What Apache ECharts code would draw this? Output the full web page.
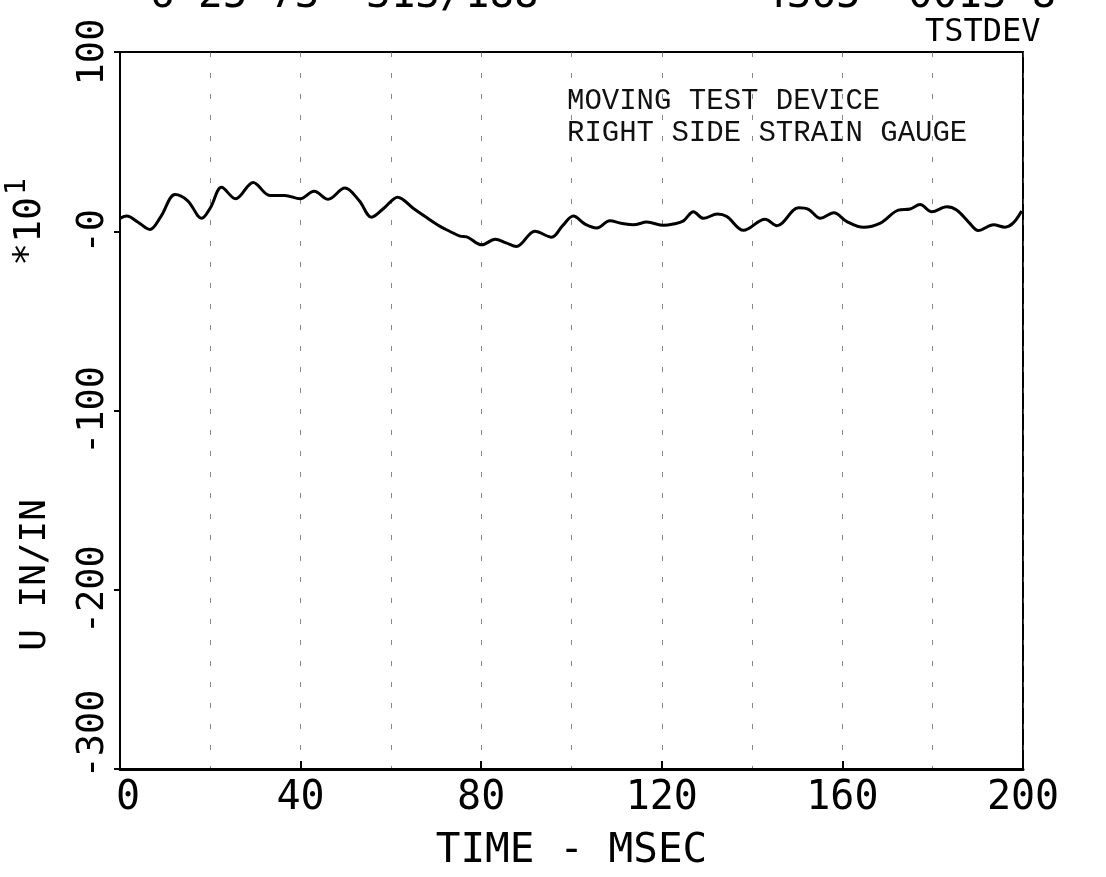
<!DOCTYPE html>
<html>
<head>
<meta charset="utf-8">
<script src="https://cdn.jsdelivr.net/npm/echarts@6/dist/echarts.min.js"></script>
<style>
html,body{margin:0;padding:0;background:#fff;}
#chart{width:1106px;height:877px;}
</style>
</head>
<body>
<div id="chart"></div>
<script>
// ---- data ----
const timeMs = [0,1.5,4,6.6,9,12.2,15,18.1,20,22.5,25.6,29.5,33.2,36.5,39.9,43,46.1,49.8,53,55.7,58.5,61.5,65,68,70.9,73,75.3,76.8,80.1,83.1,85.5,87.8,91.9,95.6,98,100.4,103,105.6,108.5,111,113.7,116.7,120.4,122.5,124.8,127,129.2,132.3,134.4,138.1,142.9,145.5,150.3,152.5,155.1,158.1,161,164.7,168.4,172.4,175,177.2,179.8,183.1,185.3,188,190.1,193.5,196,197.8,199.7];
const strain = [7.2,8.5,5,1,8,20.5,17,7.2,13,24.5,18.1,27.2,20,20,18.1,22.3,17.8,24.1,17,7.8,13,19,12.7,7.5,2.7,0,-2.7,-3.1,-7.6,-4.5,-6.5,-8.5,0,-3.3,3,8.5,4,1.8,5.8,4.5,3.6,5.1,3.3,4,5.8,10.9,7.2,9.6,8.2,0.5,6.7,3.1,13.1,12.2,7.2,10.3,5.4,2.2,4.5,11.8,12.4,14.9,10.9,13.6,11.8,5,0.4,3.6,2.3,4.5,11.3];
const yTickValues = [-300,-200,-100,0,100];
const yTickLabels = ['-300','-200','-100','-0','100'];
const xTickValues = [0,40,80,120,160,200];
const xTickLabels = ['0','40','80','120','160','200'];
const xAxisTitle = 'TIME - MSEC';
const yAxisTitle = 'U IN/IN';
const yScaleTitle = '*10';
const noteLines = ['MOVING TEST DEVICE', 'RIGHT SIDE STRAIN GAUGE'];
const headerTop = ['6', '25', '73', '313/188', '4365', '0013-8'];
const headerId = 'TSTDEV';

const PLOT = '"DejaVu Sans Mono", monospace';
const TYPE = '"Liberation Mono", "DejaVu Sans Mono", monospace';

const chart = echarts.init(document.getElementById('chart'));
const headerX = [150, 198, 270, 366, 762, 908];

const graphics = [];
headerTop.forEach((t, i) => {
  graphics.push({type:'text', left: headerX[i], top: -24, silent:true,
    style:{text:t, font:'41px ' + PLOT, fill:'#000'}});
});
graphics.push({type:'text', left: 925, top: 17, silent:true,
  style:{text:headerId, font:'32px ' + PLOT, fill:'#000'}});
noteLines.forEach((t, i) => {
  graphics.push({type:'text', left: 567, top: 87 + i*32, silent:true,
    style:{text:t, font:'29px ' + TYPE, fill:'#111'}});
});
graphics.push({type:'text', x: 54, y: 575, rotation: Math.PI/2, silent:true,
  style:{text:yAxisTitle, font:'36px ' + PLOT, fill:'#000', textAlign:'center', textVerticalAlign:'bottom'}});
graphics.push({type:'text', x: 56, y: 222, rotation: Math.PI/2, silent:true,
  style:{text:'{b|' + yScaleTitle + '}{s|1}', textAlign:'center', textVerticalAlign:'bottom',
    rich:{b:{font:'38px ' + PLOT, fill:'#000'}, s:{font:'28px ' + PLOT, fill:'#000', verticalAlign:'top', padding:[0,0,24,2]}}}});

chart.setOption({
  animation:false,
  backgroundColor:'#fff',
  grid:{left:120, right:83, top:52, bottom:90, show:true, borderColor:'#000', borderWidth:2, backgroundColor:'transparent'},
  xAxis:{
    type:'value', min:0, max:200, interval:40,
    name: xAxisTitle, nameLocation:'middle', nameGap:62,
    nameTextStyle:{fontFamily:PLOT, fontSize:41, color:'#000'},
    axisLine:{show:true, onZero:false, lineStyle:{color:'#000', width:3}},
    axisTick:{show:true, inside:true, length:8, lineStyle:{color:'#000', width:2}},
    minorTick:{show:true, splitNumber:2, length:0},
    axisLabel:{fontFamily:PLOT, fontSize:40, color:'#000', margin:10,
      formatter:(v)=>{const i = xTickValues.indexOf(v); if (i<0) return ''; return v===0 ? '{z|' + xTickLabels[i] + '}' : xTickLabels[i];},
      rich:{z:{fontFamily:PLOT, fontSize:40, color:'#000', padding:[0,0,0,16]}}},
    splitLine:{show:true, lineStyle:{color:'#555', width:1, type:[5,16], opacity:0.7}},
    minorSplitLine:{show:true, lineStyle:{color:'#555', width:1, type:[5,16], opacity:0.7}}
  },
  yAxis:{
    type:'value', min:-300, max:100, interval:100,
    axisLine:{show:true, onZero:false, lineStyle:{color:'#000', width:2}},
    axisTick:{show:true, inside:false, length:6, lineStyle:{color:'#000', width:2}},
    axisLabel:{fontFamily:PLOT, fontSize:37, color:'#000', rotate:90, margin:8,
      formatter:(v)=>{const i = yTickValues.indexOf(v); if (i<0) return ''; return v===-300 ? '{m|' + yTickLabels[i] + '}' : yTickLabels[i];},
      rich:{m:{fontFamily:PLOT, fontSize:37, color:'#000', padding:[0,0,0,70]}}},
    splitLine:{show:false}
  },
  series:[{
    type:'line',
    data: timeMs.map((t,i)=>[t, strain[i]]),
    smooth:0.35,
    showSymbol:false,
    lineStyle:{color:'#000', width:3}
  }],
  graphic: graphics
});
</script>
</body>
</html>
